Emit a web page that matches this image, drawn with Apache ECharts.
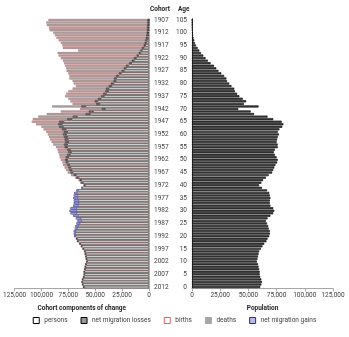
<!DOCTYPE html>
<html><head><meta charset="utf-8">
<script src="https://cdn.jsdelivr.net/npm/echarts@6/dist/echarts.min.js"></script>
<style>html,body{margin:0;padding:0;background:#fff}#c{width:349px;height:337px}</style>
</head><body><div id="c"></div>
<script>
// values in thousands of people, index = age 0..105
const ages = [0,1,2,3,4,5,6,7,8,9,10,11,12,13,14,15,16,17,18,19,20,21,22,23,24,25,26,27,28,29,30,31,32,33,34,35,36,37,38,39,40,41,42,43,44,45,46,47,48,49,50,51,52,53,54,55,56,57,58,59,60,61,62,63,64,65,66,67,68,69,70,71,72,73,74,75,76,77,78,79,80,81,82,83,84,85,86,87,88,89,90,91,92,93,94,95,96,97,98,99,100,101,102,103,104,105];
const cohorts = [2012,2011,2010,2009,2008,2007,2006,2005,2004,2003,2002,2001,2000,1999,1998,1997,1996,1995,1994,1993,1992,1991,1990,1989,1988,1987,1986,1985,1984,1983,1982,1981,1980,1979,1978,1977,1976,1975,1974,1973,1972,1971,1970,1969,1968,1967,1966,1965,1964,1963,1962,1961,1960,1959,1958,1957,1956,1955,1954,1953,1952,1951,1950,1949,1948,1947,1946,1945,1944,1943,1942,1941,1940,1939,1938,1937,1936,1935,1934,1933,1932,1931,1930,1929,1928,1927,1926,1925,1924,1923,1922,1921,1920,1919,1918,1917,1916,1915,1914,1913,1912,1911,1910,1909,1908,1907];
const xTicks = [0,25,50,75,100,125];

const persons = [60.5,61.5,62,61.5,60.5,60,60,59.5,59,58.5,
 57.5,58,58.5,59,59.5,61,62.5,64,66,67,
 68.5,69,69,68,67.5,66.5,65.5,67,69.5,72,
 73,72,69.5,69,69,69.5,69,68.5,66.5,62,
 59.5,61.5,63,65.5,68,71,72,73,74,75.5,
 76,75,73.5,72.5,73.5,76,76,75,75.5,76,
 77,76,77.5,80,81,79.5,72,67,55,52,
 41,59,46,48,45,42,40,38,37.5,35,
 33,31,30.5,28.5,26,23.5,21.5,19.5,16.5,14,
 12,10,8,6.5,5,3.5,2.6,2,1.4,1,
 0.7,0.4,0.3,0.2,0.1,0.1];

const netMigrationLosses = [0.5,0.5,0.5,0.5,0.5,0.5,0.5,0.5,0.5,0.5,0.5,0.5,0.5,0.5,0.5,0.5,0.5,0.5,0.5,0.5,
 '-','-','-','-','-','-','-','-','-','-','-','-','-','-','-','-','-','-','-','-',
 1,1.5,1.5,2,2,2,2,2,2,2,
 2,2.5,2.5,2.5,2.5,2.5,3,3,3,3,
 3,3,3.5,3.5,3.5,4,4,4,4,4,
 3,4,3,2.5,2.5,2.5,2.5,2.5,2.5,2.5,
 2.5,2,2,2,2,2,2,2,2,2,
 2,1.5,1.5,1.5,1.5,1.5,1.5,1.5,1.5,1.5,
 1.5,1.5,1.5,1.5,1.5,1.5];

const deaths = [0.5,0.5,0.5,0.5,0.5,0.5,0.5,0.5,0.5,0.5,0.5,0.5,0.5,0.5,0.5,0.5,0.5,0.5,0.5,0.5,
 1,1,1,1,1,1,1,1,1,1,1,1,1,1,1,1,1,1,1,1,
 0.5,1,1,1,2.5,2.5,3,3.5,4,3,
 4,5.5,7.5,9.5,9,8,10,12.5,13.5,14,
 14,16.5,17,16.5,20.5,25.5,32,32,36,26,
 20,27,22,22.5,27.5,33.5,34.5,34.5,31,30.5,
 34.5,38,41.5,43.5,47,51,53.5,56.5,60.5,64,
 68,72.5,75.5,58,73.5,75.5,77.9,80.5,83.1,85,
 86.8,90.6,91.2,93.3,93.9,91.9];

const births = [61.5,62.5,63,62.5,61.5,61,61,60.5,60,59.5,58.5,59,59.5,60,60.5,62,63.5,65,67,68,
 68.5,68.5,68,66.5,65.5,64,62.5,63,65.5,67,67,67,65.5,65,65,66,66,66.5,65.5,61.5,
 61,64,65.5,68.5,72.5,75.5,77,78.5,80,80.5,
 82,83,83.5,84.5,85,86.5,89,90.5,92,93,
 94,95.5,98,100,105,109,108,103,95,82,
 64,90,71,73,75,78,77,75,71,68,
 70,71,74,74,75,76.5,77,78,79,80,
 82,84,85,66,80,80.5,82,84,86,87.5,
 89,92.5,93,95,95.5,93.5];

const netMigrationGains = ['-','-','-','-','-','-','-','-','-','-','-','-','-','-','-','-','-','-','-','-',
 1,1.5,2,2.5,3,3.5,4,5,5,6,7,6,5,5,5,4.5,4,3,2,1.5,
 '-','-','-','-','-','-','-','-','-','-','-','-','-','-','-','-','-','-','-','-',
 '-','-','-','-','-','-','-','-','-','-','-','-','-','-','-','-','-','-','-','-',
 '-','-','-','-','-','-','-','-','-','-','-','-','-','-','-','-','-','-','-','-',
 '-','-','-','-','-','-'];

const FONT = 'Roboto, "Liberation Sans", sans-serif';
const FS = 6.5;
const fmt = v => (v * 1000).toLocaleString('en-US');
const chart = echarts.init(document.getElementById('c'), null, {renderer: 'canvas'});
const barCommon = {barCategoryGap: '18%', barGap: '-100%', animation: false};
const gridTop = 18.7, gridBottom = 48.7;

chart.setOption({
  animation: false,
  textStyle: {fontFamily: FONT},
  grid: [
    {left: 12.5, right: 200, top: gridTop, bottom: gridBottom},
    {left: 192, right: 16, top: gridTop, bottom: gridBottom}
  ],
  xAxis: [
    {gridIndex: 0, type: 'value', inverse: true, min: 0, max: 125, interval: 25,
     axisLine: {show: true, lineStyle: {color: '#a6a6a6', width: 1}},
     axisTick: {show: true, length: 3, lineStyle: {color: '#a6a6a6'}},
     splitLine: {show: false},
     axisLabel: {formatter: fmt, fontSize: FS, color: '#404040', margin: 4, fontFamily: FONT},
     name: 'Cohort components of change', nameLocation: 'middle', nameGap: 17,
     nameTextStyle: {fontSize: FS, fontWeight: 'bold', color: '#262626', fontFamily: FONT}},
    {gridIndex: 1, type: 'value', min: 0, max: 125, interval: 25,
     axisLine: {show: true, lineStyle: {color: '#a6a6a6', width: 1}},
     axisTick: {show: true, length: 3, lineStyle: {color: '#a6a6a6'}},
     splitLine: {show: false},
     axisLabel: {formatter: fmt, fontSize: FS, color: '#404040', margin: 4, fontFamily: FONT},
     name: 'Population', nameLocation: 'middle', nameGap: 17,
     nameTextStyle: {fontSize: FS, fontWeight: 'bold', color: '#262626', fontFamily: FONT}}
  ],
  yAxis: [
    {gridIndex: 0, type: 'category', data: cohorts, position: 'right',
     axisLine: {show: true, lineStyle: {color: '#c0c0c0'}},
     axisTick: {show: false},
     axisLabel: {interval: 4, fontSize: FS, color: '#404040', margin: 5, fontFamily: FONT}},
    {gridIndex: 1, type: 'category', data: ages, position: 'left',
     axisLine: {show: true, lineStyle: {color: '#404040'}},
     axisTick: {show: false},
     axisLabel: {interval: 4, fontSize: FS, color: '#404040', margin: 5, fontFamily: FONT}}
  ],
  legend: {
    bottom: 8, left: 'center', itemWidth: 6, itemHeight: 6, itemGap: 13,
    textStyle: {fontSize: FS, color: '#404040', fontFamily: FONT},
    data: [
      {name: 'persons', icon: 'rect', itemStyle: {color: '#fff', borderColor: '#000', borderWidth: 1}},
      {name: 'net migration losses', icon: 'rect', itemStyle: {color: '#999', borderColor: '#000', borderWidth: 1}},
      {name: 'births', icon: 'rect', itemStyle: {color: '#fff', borderColor: '#e06060', borderWidth: 1}},
      {name: 'deaths', icon: 'rect', itemStyle: {color: '#a6a6a6', borderColor: '#a6a6a6', borderWidth: 1}},
      {name: 'net migration gains', icon: 'rect', itemStyle: {color: '#b8b8e8', borderColor: '#2a2a8a', borderWidth: 1}}
    ]
  },
  graphic: [
    {type: 'text', left: 150, top: 6, style: {text: 'Cohort', fontSize: FS, fontWeight: 'bold', fill: '#262626', fontFamily: FONT}},
    {type: 'text', left: 178, top: 6, style: {text: 'Age', fontSize: FS, fontWeight: 'bold', fill: '#262626', fontFamily: FONT}}
  ],
  series: [
    Object.assign({name: 'persons', type: 'bar', xAxisIndex: 0, yAxisIndex: 0, stack: 'a', z: 4, data: persons,
      itemStyle: {color: '#ffffff', borderColor: '#000', borderWidth: 0.5}}, barCommon),
    Object.assign({name: 'net migration losses', type: 'bar', xAxisIndex: 0, yAxisIndex: 0, stack: 'a', z: 4, data: netMigrationLosses,
      itemStyle: {color: '#777', borderColor: '#000', borderWidth: 0.4}}, barCommon),
    Object.assign({name: 'deaths', type: 'bar', xAxisIndex: 0, yAxisIndex: 0, stack: 'a', z: 2, data: deaths,
      itemStyle: {color: '#a3a3a3', borderWidth: 0}}, barCommon),
    Object.assign({name: 'births', type: 'bar', xAxisIndex: 0, yAxisIndex: 0, stack: 'b', z: 3, data: births,
      itemStyle: {color: 'rgba(0,0,0,0)', borderColor: '#d27878', borderWidth: 0.4}}, barCommon),
    Object.assign({name: 'net migration gains', type: 'bar', xAxisIndex: 0, yAxisIndex: 0, stack: 'b', z: 5, data: netMigrationGains,
      itemStyle: {color: '#b0b0e4', borderColor: '#3a3a9a', borderWidth: 0.5}}, barCommon),
    Object.assign({name: 'population', type: 'bar', xAxisIndex: 1, yAxisIndex: 1, z: 2, data: persons,
      itemStyle: {color: '#454545', borderColor: '#000', borderWidth: 0.6}}, barCommon)
  ]
});
</script></body></html>
